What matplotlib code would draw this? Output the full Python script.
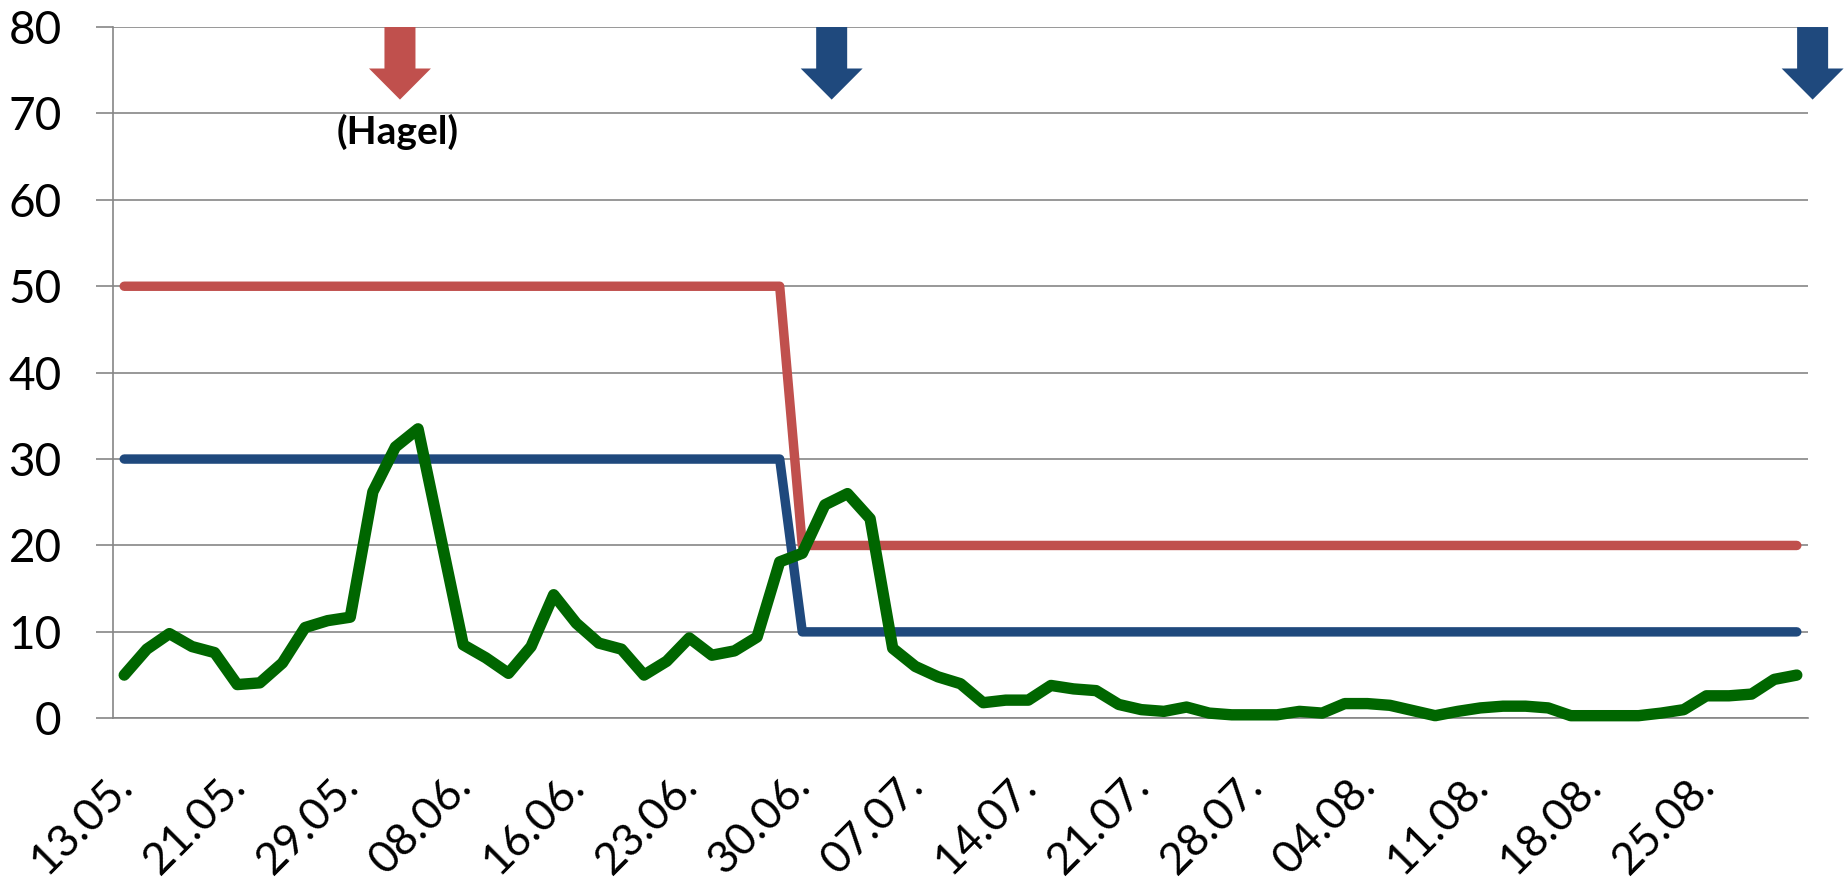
import matplotlib
matplotlib.use("Agg")
import matplotlib.pyplot as plt
from matplotlib.patches import Polygon
import matplotlib.transforms as mtransforms

plt.rcParams['font.family'] = ['Lato', 'DejaVu Sans']

# ---- data ----
tick_labels = ["13.05.", "21.05.", "29.05.", "08.06.", "16.06.", "23.06.", "30.06.",
               "07.07.", "14.07.", "21.07.", "28.07.", "04.08.", "11.08.", "18.08.", "25.08."]
label_step = 5

green = [5.0, 8.0, 9.8, 8.3, 7.6, 3.9, 4.1, 6.4, 10.5, 11.3,
         11.7, 26.2, 31.4, 33.5, 21.0, 8.5, 7.0, 5.2, 8.3, 14.3,
         11.0, 8.7, 8.0, 5.0, 6.6, 9.3, 7.3, 7.8, 9.4, 18.1,
         19.1, 24.7, 26.0, 23.1, 8.1, 6.0, 4.8, 4.0, 1.8, 2.1,
         2.1, 3.8, 3.4, 3.2, 1.6, 1.0, 0.8, 1.3, 0.6, 0.4,
         0.4, 0.4, 0.8, 0.6, 1.7, 1.7, 1.5, 0.9, 0.3, 0.8,
         1.2, 1.4, 1.4, 1.2, 0.3, 0.3, 0.3, 0.3, 0.6, 1.0,
         2.6, 2.6, 2.8, 4.5, 5.0]
red = [50] * 30 + [20] * 45
blue = [30] * 30 + [10] * 45

# annotation arrows (category position) and label
arrow_x = [12.2, 31.3, 74.7]
arrow_kind = ["red", "blue", "blue"]
hagel_text = "(Hagel)"
hagel_pos = (12.1, 67.9)

RED = "#C0504D"
BLUE = "#1F497D"
GREEN = "#006600"
GRID = "#868686"

n = len(green)
x = list(range(n))

fig = plt.figure(figsize=(18.45, 8.86), dpi=100)
ax = fig.add_axes([0.0612, 0.1893, 0.9188, 0.7802])

ax.plot(x, red, color=RED, lw=6.8, solid_capstyle="round", solid_joinstyle="round", zorder=3, clip_on=False)
ax.plot(x, blue, color=BLUE, lw=6.8, solid_capstyle="round", solid_joinstyle="round", zorder=3, clip_on=False)
ax.plot(x, green, color=GREEN, lw=8.2, solid_capstyle="round", solid_joinstyle="round", zorder=4, clip_on=False)

ax.set_xlim(-0.5, n - 0.5)
ax.set_ylim(0, 80)
ax.set_yticks(range(0, 81, 10))
ax.set_xticks(list(range(0, n, label_step)))
ax.set_xticklabels(tick_labels, rotation=45, ha="right", va="top")

ax.yaxis.grid(True, color=GRID, lw=1.2)
ax.set_axisbelow(True)
for s in ["top", "right"]:
    ax.spines[s].set_visible(False)
ax.spines["left"].set_color(GRID)
ax.spines["left"].set_linewidth(1.2)
ax.spines["bottom"].set_color(GRID)
ax.spines["bottom"].set_linewidth(1.2)

ax.tick_params(axis="y", length=12, width=1.2, color=GRID, pad=25, labelsize=33)
ax.tick_params(axis="x", length=0, pad=33.3, labelsize=32)

offset = mtransforms.ScaledTranslation(16 / 100, 0, fig.dpi_scale_trans)
for lab in ax.get_xticklabels():
    lab.set_transform(lab.get_transform() + offset)

# arrows
half_shaft = 0.686
half_head = 1.37
y_top, y_head, y_tip = 80.0, 75.2, 71.6
for xc, kind in zip(arrow_x, arrow_kind):
    col = RED if kind == "red" else BLUE
    verts = [(xc - half_shaft, y_top), (xc + half_shaft, y_top), (xc + half_shaft, y_head),
             (xc + half_head, y_head), (xc, y_tip), (xc - half_head, y_head),
             (xc - half_shaft, y_head)]
    ax.add_patch(Polygon(verts, closed=True, facecolor=col, edgecolor="none",
                         zorder=5, clip_on=False))

ax.text(hagel_pos[0], hagel_pos[1], hagel_text, ha="center", va="center",
        fontsize=28, fontweight="bold", color="black")

fig.savefig("out.png", dpi=100)
